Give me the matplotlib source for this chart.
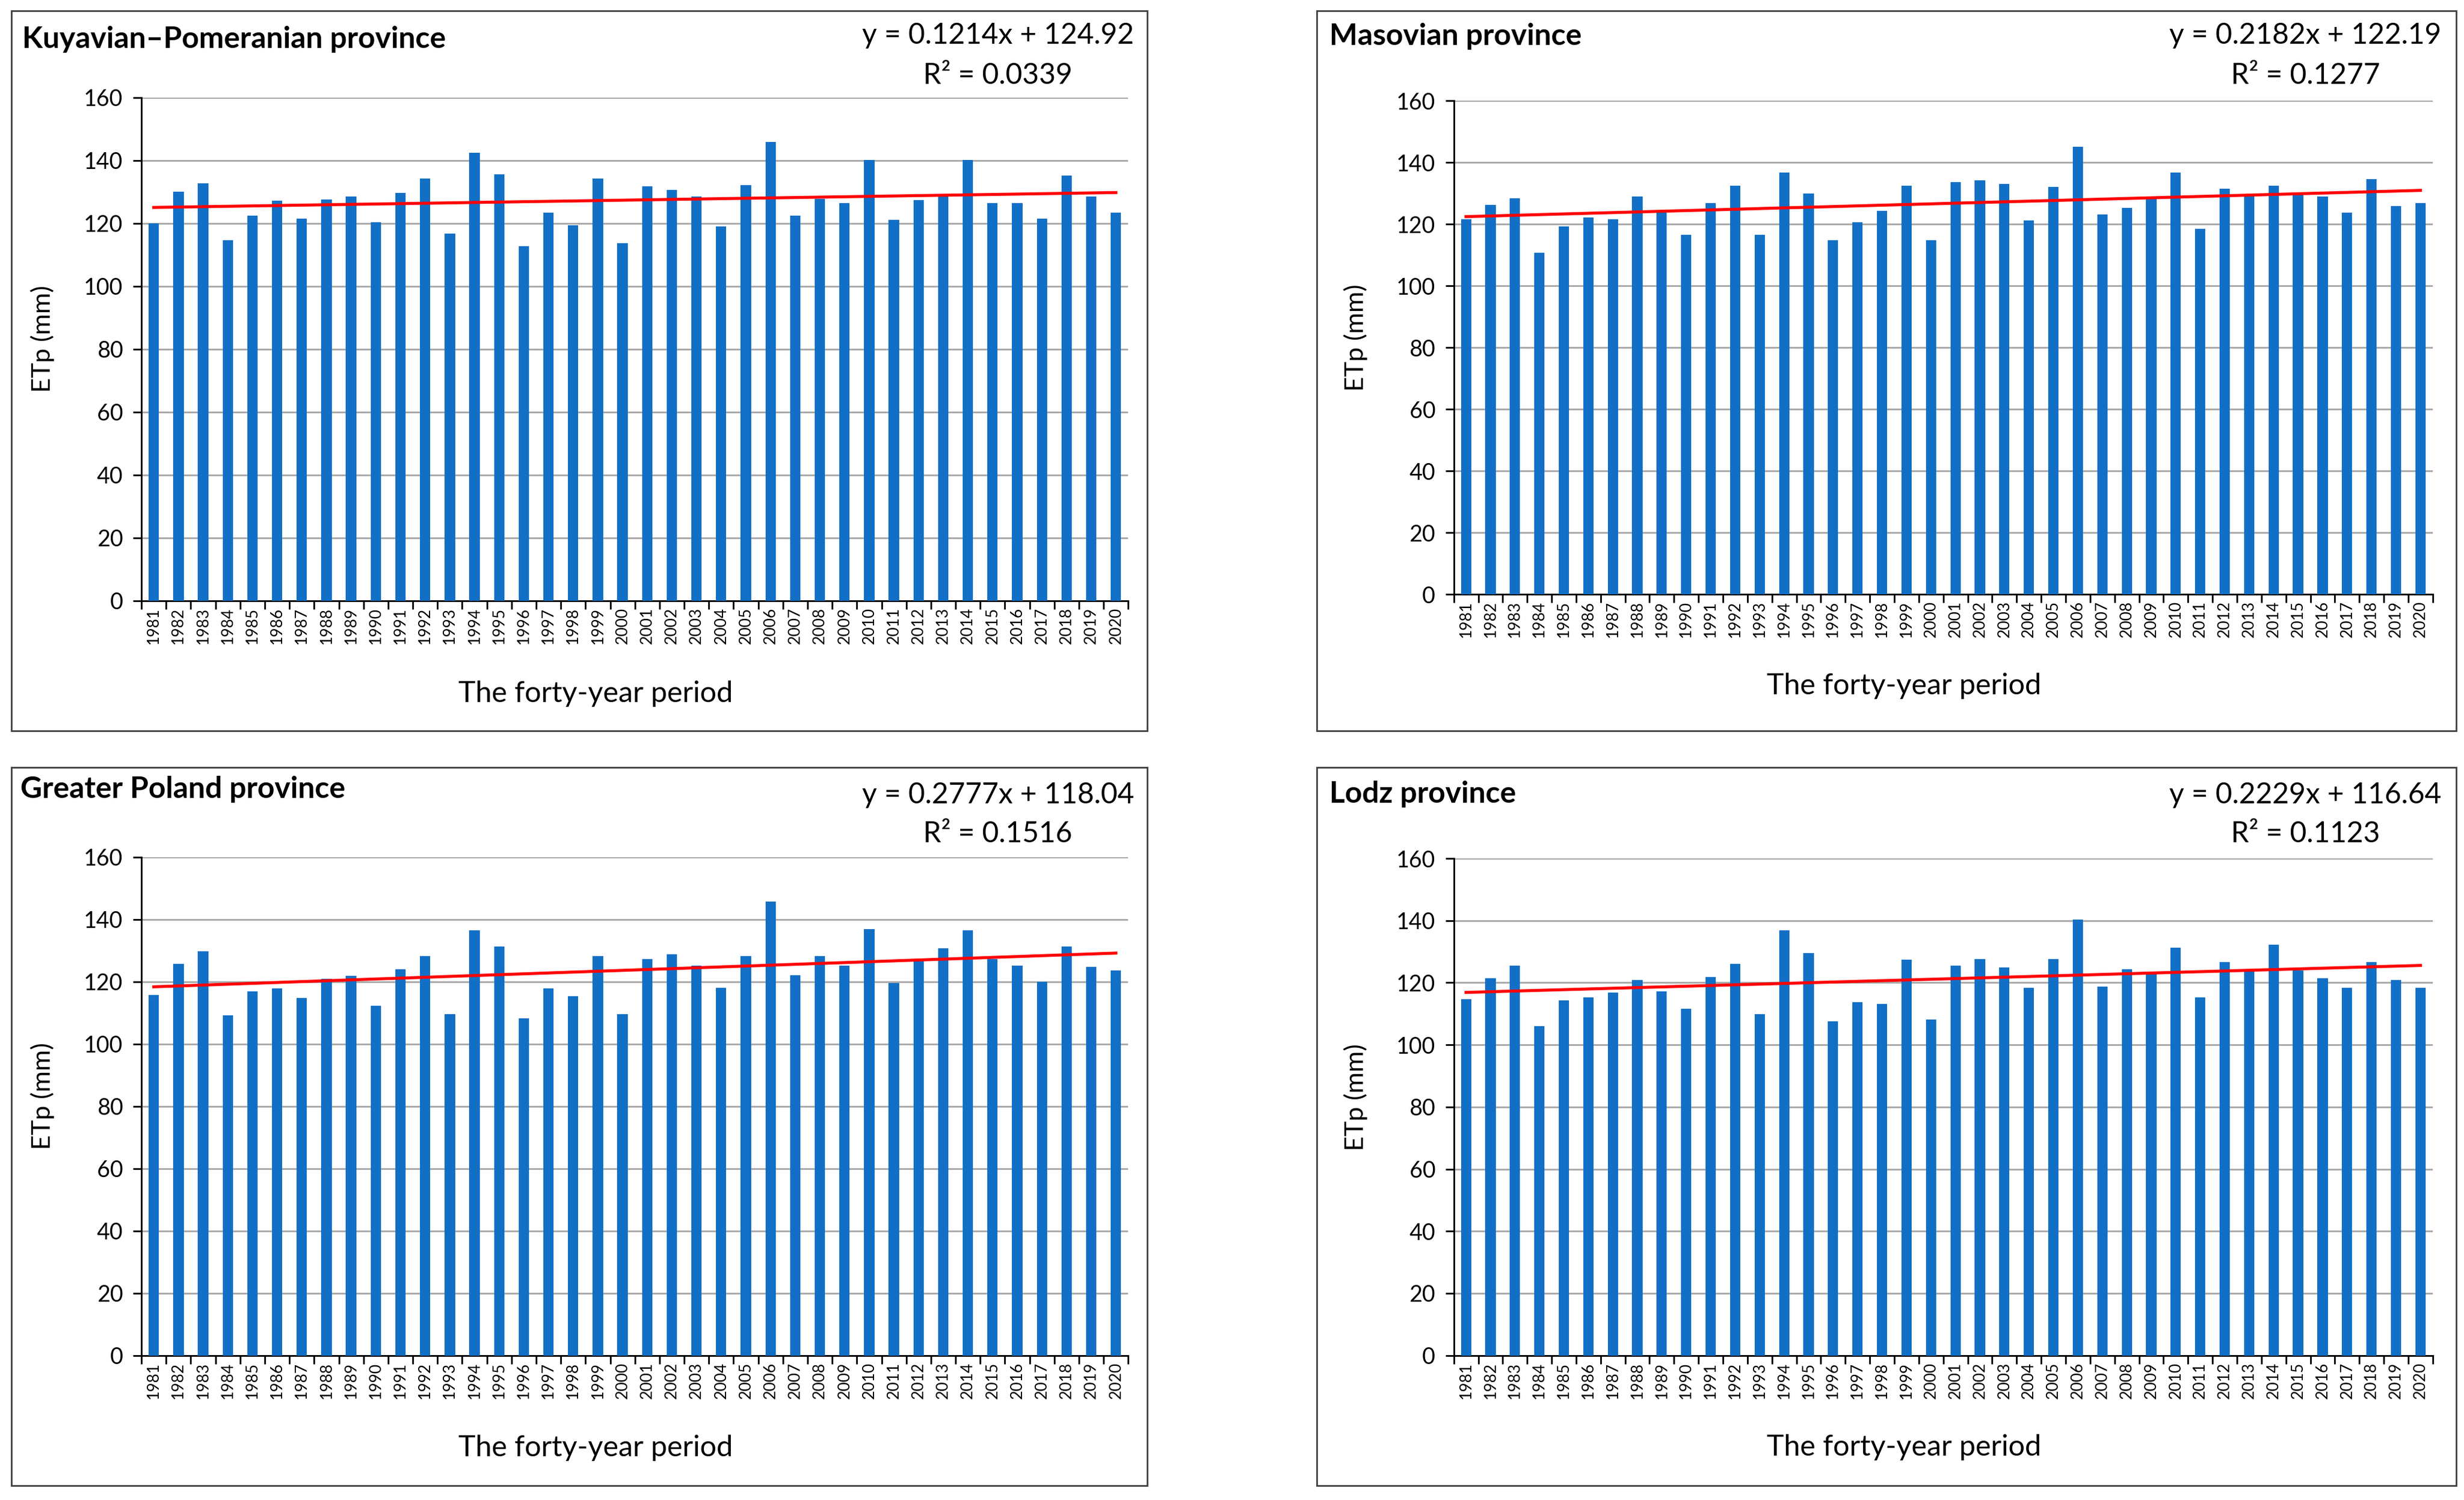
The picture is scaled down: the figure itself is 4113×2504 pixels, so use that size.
import numpy as np
import matplotlib.pyplot as plt
from matplotlib.patches import Rectangle

plt.rcParams['font.family'] = ['Lato', 'DejaVu Sans']

# Years of the forty-year period
years = [str(y) for y in range(1981, 2021)]

# ETp values (mm)
kp_etp = [120.0, 130.1, 132.7, 114.7, 122.5, 127.1, 121.4, 127.5, 128.6, 120.4,
          129.6, 134.2, 116.8, 142.4, 135.6, 112.7, 123.4, 119.4, 134.2, 113.7,
          131.7, 130.6, 128.6, 119.0, 132.1, 145.9, 122.5, 127.7, 126.5, 140.2,
          121.0, 127.4, 128.6, 140.2, 126.5, 126.5, 121.4, 135.2, 128.6, 123.4]
mas_etp = [121.6, 126.3, 128.4, 110.7, 119.2, 122.2, 121.6, 129.0, 123.6, 116.5,
           126.8, 132.5, 116.5, 136.7, 130.0, 114.8, 120.6, 124.3, 132.5, 114.8,
           133.6, 134.1, 133.1, 121.2, 132.1, 145.0, 123.2, 125.3, 128.4, 136.7,
           118.5, 131.5, 129.5, 132.5, 130.0, 129.0, 123.7, 134.6, 125.8, 126.8]
gp_etp = [115.7, 125.7, 129.7, 109.1, 116.9, 117.8, 114.8, 120.9, 121.9, 112.2,
          124.0, 128.1, 109.6, 136.5, 131.3, 108.1, 117.8, 115.3, 128.1, 109.6,
          127.2, 128.7, 125.1, 118.0, 128.2, 145.7, 122.0, 128.2, 125.1, 136.9,
          119.6, 127.0, 130.7, 136.5, 127.2, 125.1, 119.9, 131.3, 124.7, 123.6]
lodz_etp = [114.7, 121.4, 125.5, 106.0, 114.3, 115.2, 116.8, 120.9, 117.2, 111.6,
            121.9, 126.1, 109.9, 136.9, 129.6, 107.5, 113.7, 113.1, 127.5, 108.1,
            125.5, 127.6, 125.0, 118.3, 127.6, 140.3, 118.8, 124.4, 123.0, 131.2,
            115.2, 126.6, 124.0, 132.3, 124.0, 121.4, 118.3, 126.6, 120.9, 118.3]

titles = ["Kuyavian\u2013Pomeranian province", "Masovian province",
          "Greater Poland province", "Lodz province"]
slopes = [0.1214, 0.2182, 0.2777, 0.2229]
intercepts = [124.92, 122.19, 118.04, 116.64]
r2_values = ["0.0339", "0.1277", "0.1516", "0.1123"]

series = [kp_etp, mas_etp, gp_etp, lodz_etp]

# Layout (figure fractions)
axes_pos = [[0.0574, 0.5996, 0.4005, 0.3354],
            [0.5900, 0.6038, 0.3973, 0.3291],
            [0.0574, 0.0964, 0.4005, 0.3323],
            [0.5900, 0.0964, 0.3973, 0.3313]]
frame_pos = [[0.0045, 0.5126, 0.4611, 0.4801],
             [0.5344, 0.5126, 0.4624, 0.4801],
             [0.0045, 0.0094, 0.4611, 0.4791],
             [0.5344, 0.0094, 0.4624, 0.4791]]
title_pos = [(0.0089, 0.9738), (0.5395, 0.9760), (0.0083, 0.4738), (0.5395, 0.4706)]
eq_x = [0.405, 0.9356, 0.405, 0.9356]
eq_y = [(0.9765, 0.9495), (0.9765, 0.9495), (0.4700, 0.4440), (0.4700, 0.4440)]

bar_color = "#1170C6"

fig = plt.figure(figsize=(20.565, 12.52), dpi=200)

for i in range(4):
    vals = np.array(series[i])
    x = np.arange(len(years))

    # panel frame
    fx, fy, fw, fh = frame_pos[i]
    fig.add_artist(Rectangle((fx, fy), fw, fh, transform=fig.transFigure,
                             fill=False, edgecolor="#404040", linewidth=1.0))

    ax = fig.add_axes(axes_pos[i])
    ax.bar(x, vals, width=0.42, color=bar_color, zorder=3)

    # linear trend line
    t = np.arange(1, len(years) + 1)
    trend = slopes[i] * t + intercepts[i]
    ax.plot(x, trend, color="#FF0000", linewidth=1.8, zorder=4)

    ax.set_xlim(-0.5, len(years) - 0.5)
    ax.set_ylim(0, 160)
    ax.set_yticks(range(0, 161, 20))
    ax.yaxis.grid(True, color="#A6A6A6", linewidth=1.0, zorder=0)
    ax.set_axisbelow(True)

    ax.set_xticks(x)
    ax.set_xticklabels(years, rotation=90, fontsize=9.5)
    ax.set_xticks(np.arange(-0.5, len(years), 1), minor=True)
    ax.tick_params(axis='x', which='major', length=0, pad=4)
    ax.tick_params(axis='x', which='minor', length=5, width=1.0, direction='out')
    ax.tick_params(axis='y', length=5, width=1.0, direction='out', labelsize=13.5, pad=6)

    ax.spines['top'].set_visible(False)
    ax.spines['right'].set_visible(False)
    ax.spines['left'].set_linewidth(1.0)
    ax.spines['bottom'].set_linewidth(1.0)

    ax.text(-0.10, 0.52, "ETp (mm)", transform=ax.transAxes, rotation=90,
            ha='center', va='center', fontsize=15.5)
    ax.text(0.46, -0.185, "The forty-year period", transform=ax.transAxes,
            ha='center', va='center', fontsize=17.5)

    # title and regression equation
    fig.text(title_pos[i][0], title_pos[i][1], titles[i], ha='left', va='center',
             fontsize=18, fontweight='bold')
    fig.text(eq_x[i], eq_y[i][0], "y = %.4fx + %.2f" % (slopes[i], intercepts[i]),
             ha='center', va='center', fontsize=17.3)
    fig.text(eq_x[i], eq_y[i][1], "R\u00b2 = " + r2_values[i],
             ha='center', va='center', fontsize=17.3)

fig.savefig("out.png", dpi=200, facecolor="white")
